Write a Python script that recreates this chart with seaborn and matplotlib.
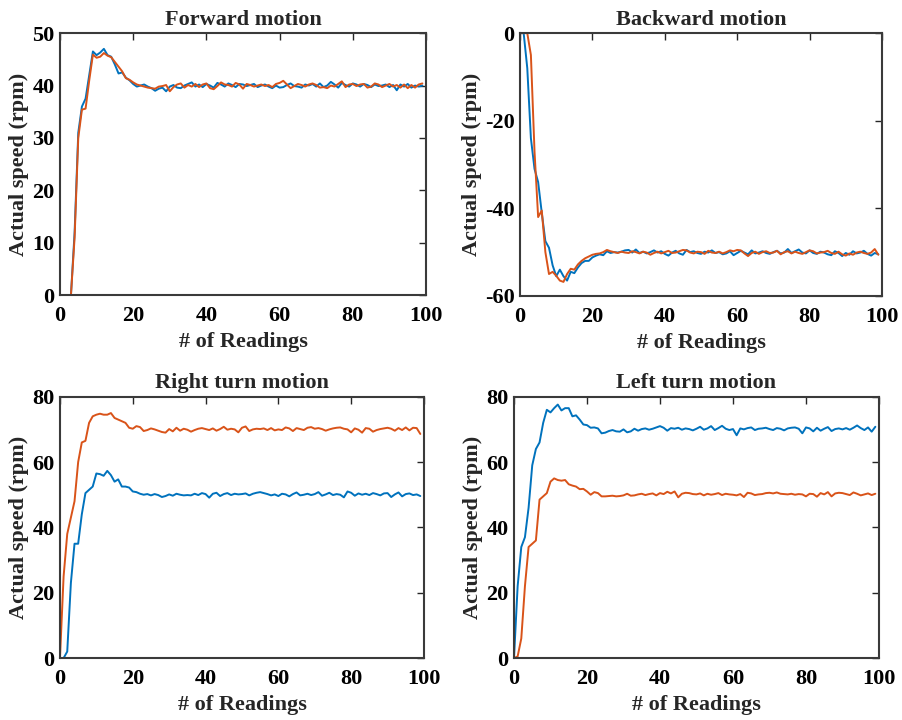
import numpy as np
import pandas as pd
import matplotlib
matplotlib.use("Agg")
import matplotlib.pyplot as plt
import seaborn as sns

sns.set_theme(style="white")
plt.rcParams['font.family'] = ['Liberation Serif', 'DejaVu Serif']
plt.rcParams['font.weight'] = 'bold'
plt.rcParams['axes.unicode_minus'] = False

readings = np.arange(100)

# forward motion
fwd_blue = [0, 0, 0, 0, 12, 31, 36, 37.5, 42, 46.5,
            45.8, 46.3, 47, 45.8, 45.5, 44, 42.3, 42.5, 41.5, 41,
            40.3, 39.8, 40, 40.2, 39.8, 39.5, 39, 39.4, 39.6, 38.9,
            39.8, 40.1, 39.6, 39.5, 40, 40.3, 40.6, 39.8, 40.2, 39.7,
            40.3, 40, 39.6, 40.5, 40.2, 39.8, 40.4, 40.1, 39.7, 40.3,
            40.2, 39.9, 40.1, 40.3, 39.7, 40, 40.2, 39.8, 39.5, 40,
            39.6, 39.7, 40.1, 40.4, 39.9, 39.8, 39.6, 40.2, 40, 40.3,
            39.8, 40.4, 39.7, 40, 40.7, 40.2, 39.6, 40.5, 40.1, 39.8,
            40.4, 40.2, 39.8, 40.3, 40.1, 39.7, 40.2, 39.9, 40, 40.2,
            39.7, 40.1, 39.1, 40.2, 39.8, 40.3, 39.6, 40, 39.8, 40]
fwd_orange = [0, 0, 0, 0, 11, 30, 35.4, 35.6, 41, 45.9,
              45.3, 45.5, 46.2, 45.7, 45.4, 44.5, 43.6, 42.7, 41.4, 41.1,
              40.6, 40.2, 40, 39.8, 39.6, 39.5, 39.4, 39.8, 39.9, 40.1,
              38.9, 39.7, 40.2, 40.4, 39.6, 40.1, 39.8, 40.3, 39.7, 40.2,
              40.4, 39.5, 39.3, 39.9, 40.6, 40.2, 40.1, 39.8, 40.5, 40.2,
              39.4, 40.3, 40.1, 39.8, 40, 40.2, 39.9, 40.1, 39.7, 40.3,
              40.5, 40.9, 40.2, 39.5, 39.9, 40.3, 40.1, 39.8, 40.2, 40.4,
              40.1, 39.6, 39.7, 39.5, 40, 39.8, 40.3, 40.8, 39.7, 40.2,
              40.3, 39.9, 40.2, 40.3, 39.6, 39.8, 40.4, 40.2, 39.7, 40,
              40.3, 39.8, 40.1, 39.6, 40.2, 39.5, 40.1, 39.6, 40.2, 40.4]

# backward motion
bwd_blue = [0, 0, -8, -24, -31, -34, -41, -47.5, -49, -53,
            -55.5, -54, -55.5, -56.5, -54.5, -54.8, -53.5, -52.5, -52, -52,
            -51.2, -50.8, -50.5, -50.7, -49.8, -50.2, -50, -50.1, -49.9, -49.6,
            -49.5, -50.1, -49.4, -50.2, -49.9, -50.3, -50, -49.6, -50.1, -49.8,
            -50.4, -50.8, -50.1, -49.7, -50.3, -50.6, -49.5, -50, -49.8, -50.2,
            -50.4, -49.9, -50.1, -49.6, -50.2, -50, -50.5, -50.3, -49.8, -50.7,
            -50.2, -49.7, -50.1, -50.5, -49.6, -50.3, -50.1, -49.8, -50.2, -50.4,
            -50, -49.7, -50.3, -50.1, -49.3, -50.2, -49.8, -49.4, -50.1, -50.3,
            -49.6, -50.2, -50.4, -49.9, -50.1, -50.5, -50.7, -49.8, -50.2, -50.9,
            -50.2, -50.6, -49.8, -50.3, -50.1, -49.7, -50.4, -50.8, -50.2, -50.5]
bwd_orange = [0, 0, 0, -5, -27, -42, -40.5, -50, -55, -54.5,
              -55.4, -56.5, -56.8, -55, -53.8, -54, -52.8, -52, -51.4, -51,
              -50.6, -50.4, -50.3, -50, -49.5, -49.8, -50, -50.2, -49.9, -50.1,
              -50.2, -49.8, -50, -50.3, -49.9, -50.1, -50.6, -50.2, -49.9, -50.3,
              -50, -49.7, -50.2, -50.1, -49.8, -49.5, -49.6, -50.1, -50.3, -49.9,
              -50, -50.4, -49.7, -50.1, -50.2, -49.9, -50.3, -50, -49.6, -49.8,
              -49.5, -49.6, -50.3, -50.9, -50.2, -49.9, -50.4, -50, -49.8, -50.2,
              -50.1, -49.7, -50.5, -50, -49.8, -50.3, -49.9, -50.2, -50.4, -50,
              -49.6, -49.8, -50.3, -50.1, -50, -49.7, -50.2, -50.4, -49.9, -50.5,
              -50.8, -50.3, -50.6, -50.1, -49.9, -50.2, -50.4, -50.1, -49.3, -50.6]

# right turn
right_blue = [0, 0, 2, 23, 35, 35, 44, 50.5, 51.5, 52.5,
              56.5, 56.3, 55.8, 57.3, 56, 54, 54.7, 52.5, 52.5, 52.2,
              51, 50.8, 50.3, 50, 50.2, 49.8, 50.2, 49.9, 49.3, 49.6,
              50.1, 49.7, 50.3, 50, 49.8, 49.9, 49.8, 50.3, 49.9, 50.5,
              50.2, 49.1, 50.3, 50.6, 49.6, 50.2, 50.5, 49.9, 50.3, 50.1,
              50.2, 50.4, 49.8, 50.3, 50.6, 50.8, 50.5, 50.2, 49.8, 50.1,
              49.6, 50.3, 50.1, 49.5, 50.2, 50.7, 49.8, 50, 50.3, 49.9,
              50.2, 50.8, 49.7, 50.1, 50.6, 49.9, 50.2, 50, 49.2, 51,
              50.6, 49.7, 50.4, 50, 50.3, 49.9, 50.5, 50.2, 49.8, 50.4,
              50.5, 49.3, 50.1, 50.7, 49.5, 50.2, 50.4, 49.9, 50.1, 49.6]
right_orange = [0, 25, 38, 43, 48, 60, 66, 66.5, 72, 74,
                74.5, 74.8, 74.5, 74.5, 75, 73.5, 73, 72.5, 72, 70.5,
                70.2, 71, 70.7, 69.5, 69.8, 70.3, 70, 69.6, 69.2, 69,
                70.1, 69.4, 70.5, 69.6, 70.2, 69.9, 69.3, 69.8, 70.2, 70.4,
                70.1, 69.8, 70.3, 69.6, 70.1, 70.8, 69.9, 70.2, 70, 69.1,
                70.5, 70.9, 69.5, 70, 70.2, 70.1, 70.3, 69.8, 70.4, 69.7,
                70, 69.8, 70.6, 70.3, 69.5, 70.4, 70.1, 69.8, 70.5, 70.7,
                70.2, 70.4, 70.1, 69.6, 70, 70.3, 70.5, 70.6, 70.2, 70,
                69.1, 70.3, 69.9, 69, 70.4, 70.2, 69.3, 69.8, 70.1, 70.3,
                70.5, 70.2, 69.6, 70.4, 69.8, 70.6, 69.7, 70.5, 70.4, 68.6]

# left turn
left_blue = [0, 22, 34, 37, 46, 59, 64, 66, 72, 76,
             75.2, 76.5, 77.6, 75.8, 76.5, 76.5, 74, 74.3, 73, 71.5,
             71.3, 70.5, 70.6, 70.3, 68.8, 69, 69.5, 69.8, 69.4, 69.3,
             70, 69.1, 69.4, 70.2, 69.6, 70.1, 70.3, 69.9, 70.2, 70.6,
             71, 70.5, 69.6, 70.4, 70.2, 70.5, 69.9, 70.3, 70.1, 69.7,
             70.2, 70.8, 69.9, 70.3, 71, 69.8, 70.4, 71.1, 70.2, 69.8,
             70.1, 68.2, 70.3, 70, 70.4, 70.6, 69.8, 70.2, 70.3, 70.5,
             70.1, 69.8, 70.4, 70.2, 69.7, 70.3, 70.5, 70.6, 70.2, 68.8,
             70.6, 70.3, 69.4, 70.5, 69.6, 70.2, 70.7, 69.5, 70.1, 70.3,
             70, 70.4, 69.9, 70.5, 71.2, 70.4, 69.8, 70.6, 69.3, 70.8]
left_orange = [0, 0.5, 6, 22, 34, 35, 36, 48.5, 49.5, 50.5,
               54, 55, 54.5, 54.3, 54.5, 53.2, 52.8, 52.5, 51.7, 51.8,
               51, 50, 50.8, 50.5, 49.5, 49.5, 49.6, 49.7, 49.5, 49.6,
               49.8, 50.3, 49.7, 49.8, 50.1, 50.3, 49.9, 50.2, 50.4, 49.8,
               50.5, 50.2, 50.9, 50.4, 51, 49.2, 50.3, 50.6, 50.5, 50.2,
               50.1, 50.4, 49.8, 50.3, 50, 50.2, 50.5, 49.9, 50.3, 50.1,
               50, 49.8, 50.2, 49.3, 50.6, 50.4, 49.9, 50.1, 50.2, 50.5,
               50.6, 50.4, 50.7, 50.3, 50.2, 50.1, 50.3, 50, 50.2, 50.1,
               49.5, 50.3, 50.2, 49.4, 50.5, 50.1, 50.8, 49.5, 50.4, 50.6,
               50.5, 50.2, 49.9, 50.7, 50.3, 49.8, 50.1, 50.4, 49.9, 50.3]

titles = ["Forward motion", "Backward motion", "Right turn motion", "Left turn motion"]
series = [(fwd_blue, fwd_orange), (bwd_blue, bwd_orange),
          (right_blue, right_orange), (left_blue, left_orange)]
ylims = [(0, 50), (-60, 0), (0, 80), (0, 80)]
yticks = [[0, 10, 20, 30, 40, 50], [-60, -40, -20, 0], [0, 20, 40, 60, 80], [0, 20, 40, 60, 80]]

# axes rectangles (fig fraction)
rects = [[0.0664, 0.590, 0.4054, 0.364],
         [0.5759, 0.589, 0.4008, 0.365],
         [0.0664, 0.086, 0.4031, 0.363],
         [0.5692, 0.086, 0.4042, 0.363]]

blue = "#0072BD"
orange = "#D95319"

fig = plt.figure(figsize=(9.03, 7.2), dpi=100)
for i in range(4):
    ax = fig.add_axes(rects[i])
    b, o = series[i]
    df = pd.DataFrame({"reading": readings, "blue": b, "orange": o})
    sns.lineplot(data=df, x="reading", y="blue", color=blue, linewidth=1.4, ax=ax)
    sns.lineplot(data=df, x="reading", y="orange", color=orange, linewidth=1.4, ax=ax)
    ax.set_xlim(0, 100)
    ax.set_ylim(*ylims[i])
    ax.set_xticks([0, 20, 40, 60, 80, 100])
    ax.set_yticks(yticks[i])
    ax.set_title(titles[i], fontsize=16, fontweight='bold', pad=6)
    ax.set_xlabel("# of Readings", fontsize=16, fontweight='bold', labelpad=4)
    ax.set_ylabel("Actual speed (rpm)", fontsize=16, fontweight='bold', labelpad=2)
    ax.tick_params(axis='x', pad=8)
    ax.tick_params(axis='y', pad=4)
    ax.tick_params(direction='in', top=True, right=True, length=5, width=1,
                   labelsize=16, colors='#262626')
    for lab in ax.get_xticklabels() + ax.get_yticklabels():
        lab.set_fontweight('bold')
        lab.set_color('black')
    for sp in ax.spines.values():
        sp.set_color('#3a3a3a')
        sp.set_linewidth(1.5)

fig.savefig("out.png", dpi=100)
